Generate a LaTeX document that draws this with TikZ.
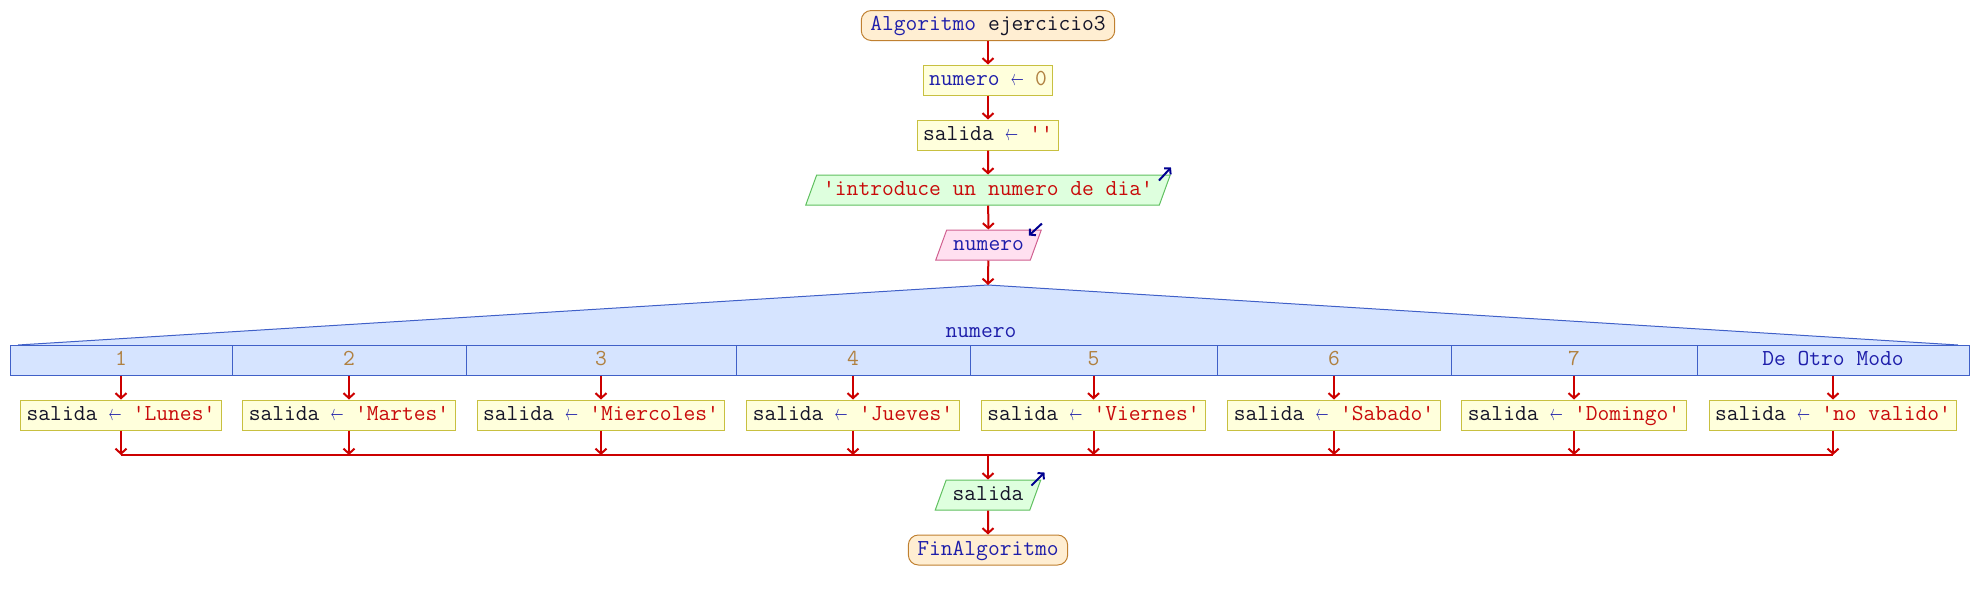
\documentclass[tikz,border=0pt]{standalone}
\usepackage{fontspec}
\setmonofont{Latin Modern Mono}
\usetikzlibrary{arrows.meta,positioning,shapes.geometric,calc}
\definecolor{pskw}{RGB}{30,30,170}
\definecolor{psvar}{RGB}{20,20,40}
\definecolor{psstr}{RGB}{200,10,10}
\definecolor{psnum}{RGB}{176,128,64}
\definecolor{psred}{RGB}{204,0,0}
\definecolor{psicon}{RGB}{0,0,144}
\definecolor{psterm}{RGB}{255,238,210}
\definecolor{pstermline}{RGB}{192,128,48}
\definecolor{psproc}{RGB}{255,255,220}
\definecolor{psprocline}{RGB}{200,192,64}
\definecolor{psout}{RGB}{222,255,222}
\definecolor{psoutline}{RGB}{96,192,96}
\definecolor{psin}{RGB}{255,224,240}
\definecolor{psinline}{RGB}{208,96,144}
\definecolor{pssw}{RGB}{214,228,255}
\definecolor{psswline}{RGB}{64,96,200}
\newcommand{\asig}{{\color{pskw}\makebox[6pt]{\resizebox{6.5pt}{4pt}{$\leftarrow$}}}}
\newcommand{\pstr}[1]{{\color{psstr}'#1'}}
\newcommand{\pvar}[1]{{\color{psvar}#1}}

\begin{document}
\begin{tikzpicture}[x=0.5pt,y=-0.5pt,
  base/.style={font=\ttfamily\fontsize{11.43}{13}\selectfont,line width=0.5pt,
    text height=7.5pt,text depth=2.5pt,inner ysep=2.5pt},
  term/.style={base,draw=pstermline,fill=psterm,rounded corners=5pt,text=pskw,inner xsep=4.5pt},
  proc/.style={base,draw=psprocline,fill=psproc,text=psvar,inner xsep=3pt},
  outp/.style={base,trapezium,trapezium left angle=70,trapezium right angle=110,
    draw=psoutline,fill=psout,inner xsep=3.25pt},
  inp/.style={outp,draw=psinline,fill=psin},
  casebox/.style={base,draw=psswline,fill=pssw,inner xsep=0pt,text=psnum},
  arr/.style={-{Straight Barb[length=2.5pt,width=5.5pt]},line width=1pt,psred},
  ioarr/.style={-{Straight Barb[length=2pt,width=4.5pt]},line width=1pt,psicon}
]
  \useasboundingbox (0,0) rectangle (1976,600);

  % Inicio
  \node[term] (ini) at (988,25.5) {Algoritmo \pvar{ejercicio3}};
  \node[proc] (n0) at (988,80) {{\color{pskw}numero} \asig{} {\color{psnum}0}};
  \node[proc] (s0) at (988,135) {salida \asig{} \pstr{}};
  \node[outp] (msg) at (988,190) {\pstr{introduce un numero de dia}};
  \node[inp,text=pskw] (leer) at (988.5,245) {numero};
  \draw[ioarr] ($(msg.top right corner)+(-12,6)$) -- ++(12,-13);
  \draw[ioarr] ($(leer.top right corner)+(0,-6)$) -- ++(-13,12);

  % Segun
  \coordinate (apex) at (988,285);
  \fill[pssw] (18,345) -- (apex) -- (1958,345) -- cycle;
  \draw[psswline,line width=0.5pt] (18,345) -- (apex) -- (1958,345);
  \node[base,text=pskw] (swlab) at (981,332) {numero};
  \node[casebox,minimum width=111pt] (k1) at (121,360) {1};
  \node[casebox,minimum width=117pt] (k2) at (349,360) {2};
  \node[casebox,minimum width=135pt] (k3) at (601,360) {3};
  \node[casebox,minimum width=117pt] (k4) at (853,360) {4};
  \node[casebox,minimum width=123.5pt] (k5) at (1093.5,360) {5};
  \node[casebox,minimum width=117pt] (k6) at (1334,360) {6};
  \node[casebox,minimum width=123pt] (k7) at (1574,360) {7};
  \node[casebox,minimum width=136pt,text=pskw] (k8) at (1833,360) {De Otro Modo};

  % Asignaciones
  \node[proc] (s1) at (121,415) {salida \asig{} \pstr{Lunes}};
  \node[proc] (s2) at (349,415) {salida \asig{} \pstr{Martes}};
  \node[proc] (s3) at (601,415) {salida \asig{} \pstr{Miercoles}};
  \node[proc] (s4) at (853,415) {salida \asig{} \pstr{Jueves}};
  \node[proc] (s5) at (1093.5,415) {salida \asig{} \pstr{Viernes}};
  \node[proc] (s6) at (1334,415) {salida \asig{} \pstr{Sabado}};
  \node[proc] (s7) at (1574,415) {salida \asig{} \pstr{Domingo}};
  \node[proc] (s8) at (1833,415) {salida \asig{} \pstr{no valido}};
  \coordinate (bus) at (988,455);

  % Fin
  \node[outp,text=psvar] (out) at (988,495) {salida};
  \node[term] (fin) at (988,550) {FinAlgoritmo};
  \draw[ioarr] ($(out.top right corner)+(-10,6)$) -- ++(13,-13);

  % Flechas
  \draw[arr] (ini) -- (n0);
  \draw[arr] (n0) -- (s0);
  \draw[arr] (s0) -- (msg);
  \draw[arr] (msg) -- (leer);
  \draw[arr] (leer) -- (apex);
  \draw[arr] (k1) -- (s1); \draw[arr] (s1) -- (s1 |- bus);
  \draw[arr] (k2) -- (s2); \draw[arr] (s2) -- (s2 |- bus);
  \draw[arr] (k3) -- (s3); \draw[arr] (s3) -- (s3 |- bus);
  \draw[arr] (k4) -- (s4); \draw[arr] (s4) -- (s4 |- bus);
  \draw[arr] (k5) -- (s5); \draw[arr] (s5) -- (s5 |- bus);
  \draw[arr] (k6) -- (s6); \draw[arr] (s6) -- (s6 |- bus);
  \draw[arr] (k7) -- (s7); \draw[arr] (s7) -- (s7 |- bus);
  \draw[arr] (k8) -- (s8); \draw[arr] (s8) -- (s8 |- bus);
  \draw[psred,line width=1pt] (s1 |- bus) -- (s8 |- bus);
  \draw[arr] (bus) -- (out);
  \draw[arr] (out) -- (fin);
\end{tikzpicture}
\end{document}
